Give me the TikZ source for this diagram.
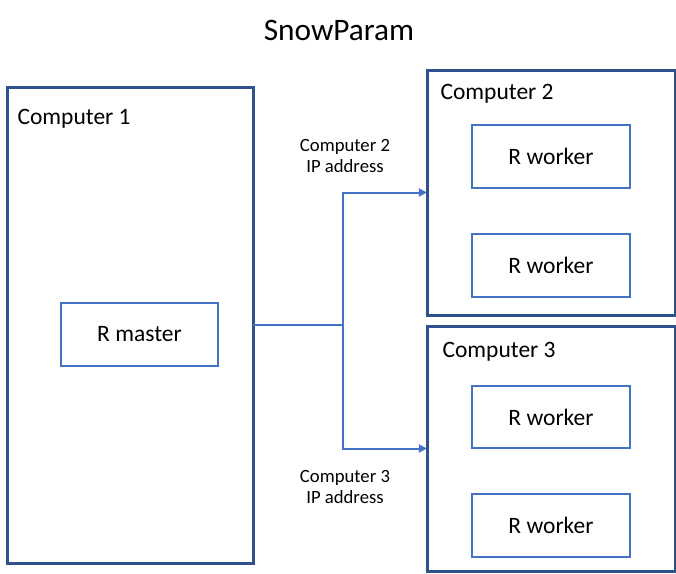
\documentclass[tikz,border=0pt]{standalone}
\usepackage{fontspec}
\setmainfont{Carlito}
\usetikzlibrary{arrows.meta}
\definecolor{darkb}{HTML}{2F528F}
\definecolor{lightb}{HTML}{4472C4}
\begin{document}
\begin{tikzpicture}[x=1pt,y=-1pt,
  computer/.style={draw=darkb,line width=3pt},
  worker/.style={draw=lightb,line width=2.7pt,font=\fontsize{23.5}{26}\selectfont},
  ctitle/.style={anchor=west,font=\fontsize{23.5}{26}\selectfont},
  iplabel/.style={align=center,font=\fontsize{18.7}{21.5}\selectfont},
  link/.style={draw=lightb,line width=2pt},
  tip/.style={-{Triangle[length=8pt,width=8pt]}}]
\useasboundingbox[fill=white] (0,0) rectangle (676,573);
\node[font=\fontsize{31.3}{34}\selectfont] (title) at (339,30) {SnowParam};
% computers
\draw[computer] (7,87) rectangle (253,563);
\node[inner sep=0,minimum width=246,minimum height=476] (c1) at (130,325) {};
\draw[computer] (427,70) rectangle (675,315);
\node[inner sep=0,minimum width=248,minimum height=245] (c2) at (551,192.5) {};
\draw[computer] (427,326) rectangle (675,571);
\node[inner sep=0,minimum width=248,minimum height=245] (c3) at (551,448.5) {};
\node[ctitle] (t1) at (14,119) {Computer 1};
\node[ctitle] (t2) at (437,94) {Computer 2};
\node[ctitle] (t3) at (439,352) {Computer 3};
% inner boxes
\node[worker,minimum width=157,minimum height=63] (m) at (139.5,334.5) {R master};
\node[worker,minimum width=158,minimum height=63] (w1) at (551,156.5) {R worker};
\node[worker,minimum width=158,minimum height=63] (w2) at (551,265.5) {R worker};
\node[worker,minimum width=158,minimum height=62] (w3) at (551,417) {R worker};
\node[worker,minimum width=158,minimum height=63] (w4) at (551,525.5) {R worker};
% connectors
\coordinate (j) at (343,325);
\draw[link] (c1.east) -- (j);
\draw[link,tip] (j) |- (c2.west);
\draw[link,tip] (j) |- (c3.west);
\node[iplabel] (ip2) at (345,156) {Computer 2\\IP address};
\node[iplabel] (ip3) at (345,487) {Computer 3\\IP address};
\end{tikzpicture}
\end{document}
